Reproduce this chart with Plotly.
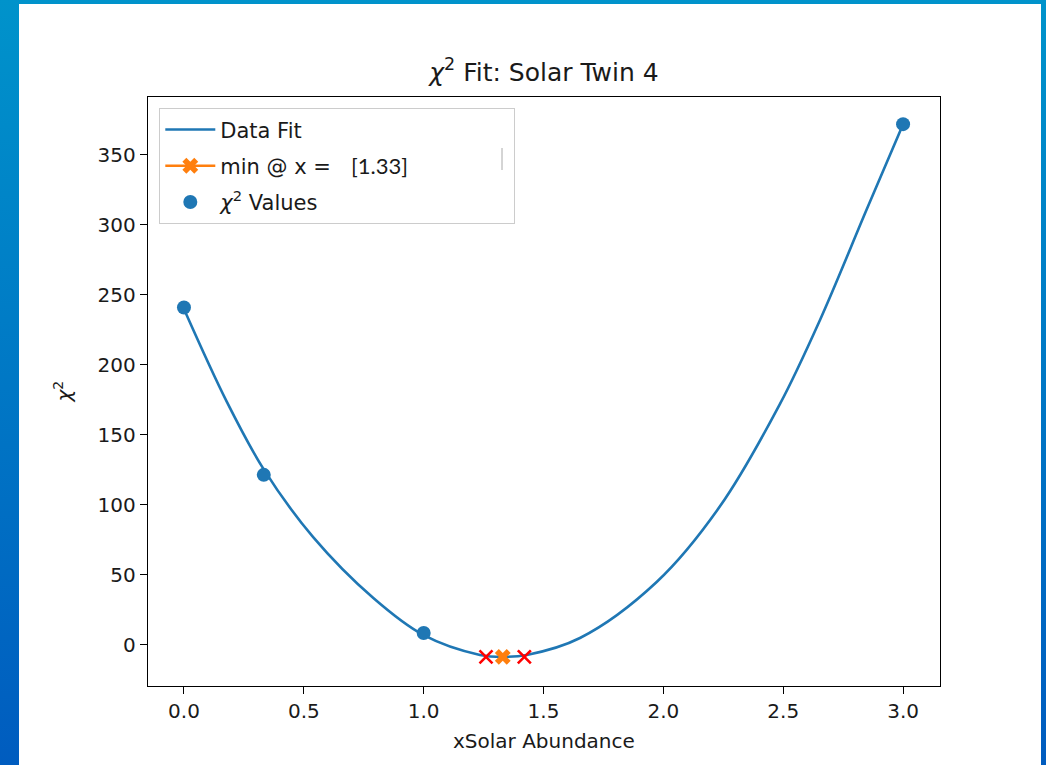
import base64
import plotly.graph_objects as go

# ---- data ----
fit_x = [0.0, 0.178, 0.331, 0.539, 0.79, 0.998, 1.235, 1.332, 1.43,
         1.652, 1.972, 2.236, 2.486, 2.653, 2.848, 3.0]
fit_y = [240, 174, 126, 77, 33.5, 7.2, -7.1, -8.5, -7.1,
         5, 45, 99, 172, 232, 311, 372]

chi_x = [0.0, 0.333, 1.0, 3.0]
chi_y = [241, 121.5, 8.6, 372]

min_x = [1.33]
min_y = [-8.5]

err_x = [1.26, 1.42]
err_y = [-8.5, -8.5]

x_ticks = [0.0, 0.5, 1.0, 1.5, 2.0, 2.5, 3.0]
y_ticks = [0, 50, 100, 150, 200, 250, 300, 350]

# ---- layout geometry ----
W, H = 1046, 765
L, R, T, B = 148, 106, 97, 79
PW, PH = W - L - R, H - T - B

FONT = "DejaVu Sans"
BLUE = "#1f77b4"
ORANGE = "#ff7f0e"
TXT = "#1a1a1a"
NB = "\u00a0"

svg = f'''<svg xmlns="http://www.w3.org/2000/svg" width="{W}" height="{H}" viewBox="0 0 {W} {H}" preserveAspectRatio="none">
<defs><linearGradient id="g" x1="0" y1="0" x2="0" y2="1">
<stop offset="0" stop-color="#0093cb"/><stop offset="1" stop-color="#005cbf"/></linearGradient></defs>
<rect x="0" y="0" width="{W}" height="{H}" fill="url(#g)"/>
<rect x="19" y="4" width="1022" height="{H}" fill="#ffffff"/>
</svg>'''
bg_uri = "data:image/svg+xml;base64," + base64.b64encode(svg.encode()).decode()

fig = go.Figure()

fig.add_trace(go.Scatter(
    x=fit_x, y=fit_y, mode="lines", name="Data Fit", legendgroup="a",
    line=dict(color=BLUE, width=2.6, shape="spline", smoothing=1.0)))

fig.add_trace(go.Scatter(
    x=err_x, y=err_y, mode="markers", showlegend=False,
    marker=dict(symbol="x-thin-open", size=13, color="red",
                line=dict(color="red", width=2.6))))

fig.add_trace(go.Scatter(
    x=min_x, y=min_y, mode="lines+markers", legendgroup="b",
    name=('min @ x =' + NB * 3 +
          '<span style="font-family:Lato;font-size:22px">[1.33]</span>' + NB * 15),
    line=dict(color=ORANGE, width=2.6),
    marker=dict(symbol="x", size=14, color=ORANGE)))

fig.add_trace(go.Scatter(
    x=chi_x, y=chi_y, mode="markers", name="<i>χ</i><sup>2</sup> Values",
    legendgroup="c",
    marker=dict(symbol="circle", size=14, color=BLUE)))

axis_common = dict(
    showgrid=False, zeroline=False, showline=True, linecolor="black",
    linewidth=1.4, mirror=True, ticks="outside", ticklen=7, tickwidth=1.4,
    tickcolor="black", tickfont=dict(family=FONT, size=20, color=TXT))

fig.update_layout(
    width=W, height=H,
    margin=dict(l=L, r=R, t=T, b=B, pad=0),
    paper_bgcolor="white", plot_bgcolor="white",
    showlegend=True,
    legend=dict(x=11 / PW, y=1 - 11 / PH, xanchor="left", yanchor="top",
                bgcolor="rgba(255,255,255,0)", bordercolor="#cccccc",
                borderwidth=1.3, font=dict(family=FONT, size=21, color=TXT),
                tracegroupgap=6, itemwidth=50),
    xaxis=dict(range=[-0.15, 3.154], tickvals=x_ticks,
               ticktext=[f"{v:.1f}" for v in x_ticks], **axis_common),
    yaxis=dict(range=[-29.3, 391.4], tickvals=y_ticks, **axis_common),
    title=dict(text="<i>χ</i><sup>2</sup> Fit: Solar Twin 4", x=0.5, xref="paper",
               xanchor="center", y=1 - 72 / H, yref="container", yanchor="middle",
               font=dict(family=FONT, size=25, color=TXT)),
    annotations=[
        dict(text="xSolar Abundance", x=0.5, xref="paper", y=-(741 - T - PH) / PH,
             yref="paper", xanchor="center", yanchor="middle", showarrow=False,
             font=dict(family=FONT, size=20, color=TXT)),
        dict(text="<i>χ</i><sup>2</sup>", x=-(L - 62) / PW, xref="paper", y=0.5,
             yref="paper", xanchor="center", yanchor="middle", textangle=-90,
             showarrow=False, font=dict(family=FONT, size=20, color=TXT)),
    ],
    shapes=[dict(type="line", xref="paper", yref="paper",
                 x0=(502 - L) / PW, x1=(502 - L) / PW,
                 y0=1 - (148 - T) / PH, y1=1 - (170 - T) / PH,
                 line=dict(color="#aaaaaa", width=1))],
    images=[dict(source=bg_uri, xref="paper", yref="paper",
                 x=-L / PW, y=1 + T / PH, sizex=W / PW, sizey=H / PH,
                 xanchor="left", yanchor="top", sizing="stretch", layer="below")],
)

fig.write_html("out.html")
